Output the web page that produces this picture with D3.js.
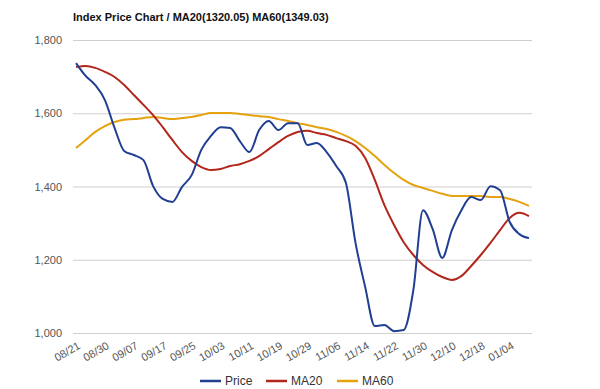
<!DOCTYPE html>
<html>
<head>
<meta charset="utf-8">
<script src="https://cdn.jsdelivr.net/npm/d3@7"></script>
<style>
body { margin: 0; background: #fff; }
text { font-family: "Liberation Sans", Arial, sans-serif; }
</style>
</head>
<body>
<svg width="600" height="389"></svg>
<script>
var svg = d3.select('svg');

// tick labels, one every 3 points (every 6 trading days)
var dates = ["08/21","08/30","09/07","09/17","09/25","10/03","10/11","10/19",
             "10/29","11/06","11/14","11/22","11/30","12/10","12/18","01/04"];

// values sampled every 2 trading days
var price = [1737,1702,1677,1636,1560,1497,1486,1472,1401,1366,1358,1399,1431,1500,1538,1562,
             1560,1524,1494,1554,1579,1554,1573,1573,1513,1519,1494,1456,1410,1246,1126,1019,
             1022,1005,1008,1117,1335,1284,1205,1281,1336,1371,1363,1401,1390,1303,1270,1259];
var ma20 = [1726,1729,1724,1713,1699,1677,1650,1623,1595,1562,1527,1494,1470,1453,1445,1448,
            1456,1461,1470,1483,1502,1521,1538,1549,1552,1546,1541,1532,1524,1511,1478,1418,
            1349,1295,1248,1213,1186,1167,1153,1145,1156,1183,1213,1246,1281,1314,1328,1319];
var ma60 = [1505,1527,1549,1565,1576,1582,1584,1587,1590,1587,1584,1587,1590,1595,1601,1601,
            1601,1598,1595,1592,1590,1584,1579,1573,1568,1562,1557,1549,1538,1524,1505,1483,
            1459,1437,1418,1404,1396,1388,1380,1374,1374,1374,1374,1371,1371,1366,1358,1347];
var yTicks = [1000, 1200, 1400, 1600, 1800];

var series = [
    {name: "Price", values: price, color: "#203f92"},
    {name: "MA20", values: ma20, color: "#b3261b"},
    {name: "MA60", values: ma60, color: "#e5a10e"}
];

var x = d3.scaleLinear().domain([0, price.length - 1]).range([76, 529]);
var y = d3.scaleLinear().domain([1000, 1800]).range([333, 40]);

svg.append("text")
    .attr("x", 73).attr("y", 21)
    .attr("font-size", 11).attr("font-weight", "bold")
    .attr("fill", "#111")
    .text("Index Price Chart / MA20(1320.05) MA60(1349.03)");

// grid + y labels
var yAxis = svg.append("g")
    .attr("transform", "translate(532,0)")
    .call(d3.axisLeft(y).tickValues(yTicks).tickSize(459).tickFormat(d3.format(",")));
yAxis.select(".domain").remove();
yAxis.selectAll("line").attr("stroke", "#cfcfcf");
yAxis.selectAll("text")
    .attr("x", -470)
    .attr("font-size", 11)
    .attr("font-family", "Liberation Sans, Arial, sans-serif")
    .attr("fill", "#555");

// x labels
svg.append("g").selectAll("text")
    .data(dates)
    .enter()
    .append("text")
    .attr("transform", function (d, i) {
        return "translate(" + (x(i * 3) + 5) + ",348) rotate(-30)";
    })
    .attr("text-anchor", "end")
    .attr("font-size", 11)
    .attr("fill", "#555")
    .text(function (d) { return d; });

var line = d3.line()
    .x(function (d, i) { return x(i); })
    .y(function (d) { return y(d); })
    .curve(d3.curveMonotoneX);

svg.selectAll("path.series")
    .data(series.slice().reverse())
    .enter()
    .append("path")
    .attr("class", "series")
    .attr("d", function (d) { return line(d.values); })
    .attr("fill", "none")
    .attr("stroke", function (d) { return d.color; })
    .attr("stroke-width", 2);

// legend
var legendX = [200, 266, 337];
var legend = svg.selectAll("g.legend")
    .data(series)
    .enter()
    .append("g")
    .attr("class", "legend")
    .attr("transform", function (d, i) { return "translate(" + legendX[i] + ",381)"; });
legend.append("line")
    .attr("x1", 0).attr("x2", 21)
    .attr("stroke", function (d) { return d.color; })
    .attr("stroke-width", 2.5);
legend.append("text")
    .attr("x", 25).attr("y", 4)
    .attr("font-size", 12)
    .attr("fill", "#333")
    .text(function (d) { return d.name; });
</script>
</body>
</html>
